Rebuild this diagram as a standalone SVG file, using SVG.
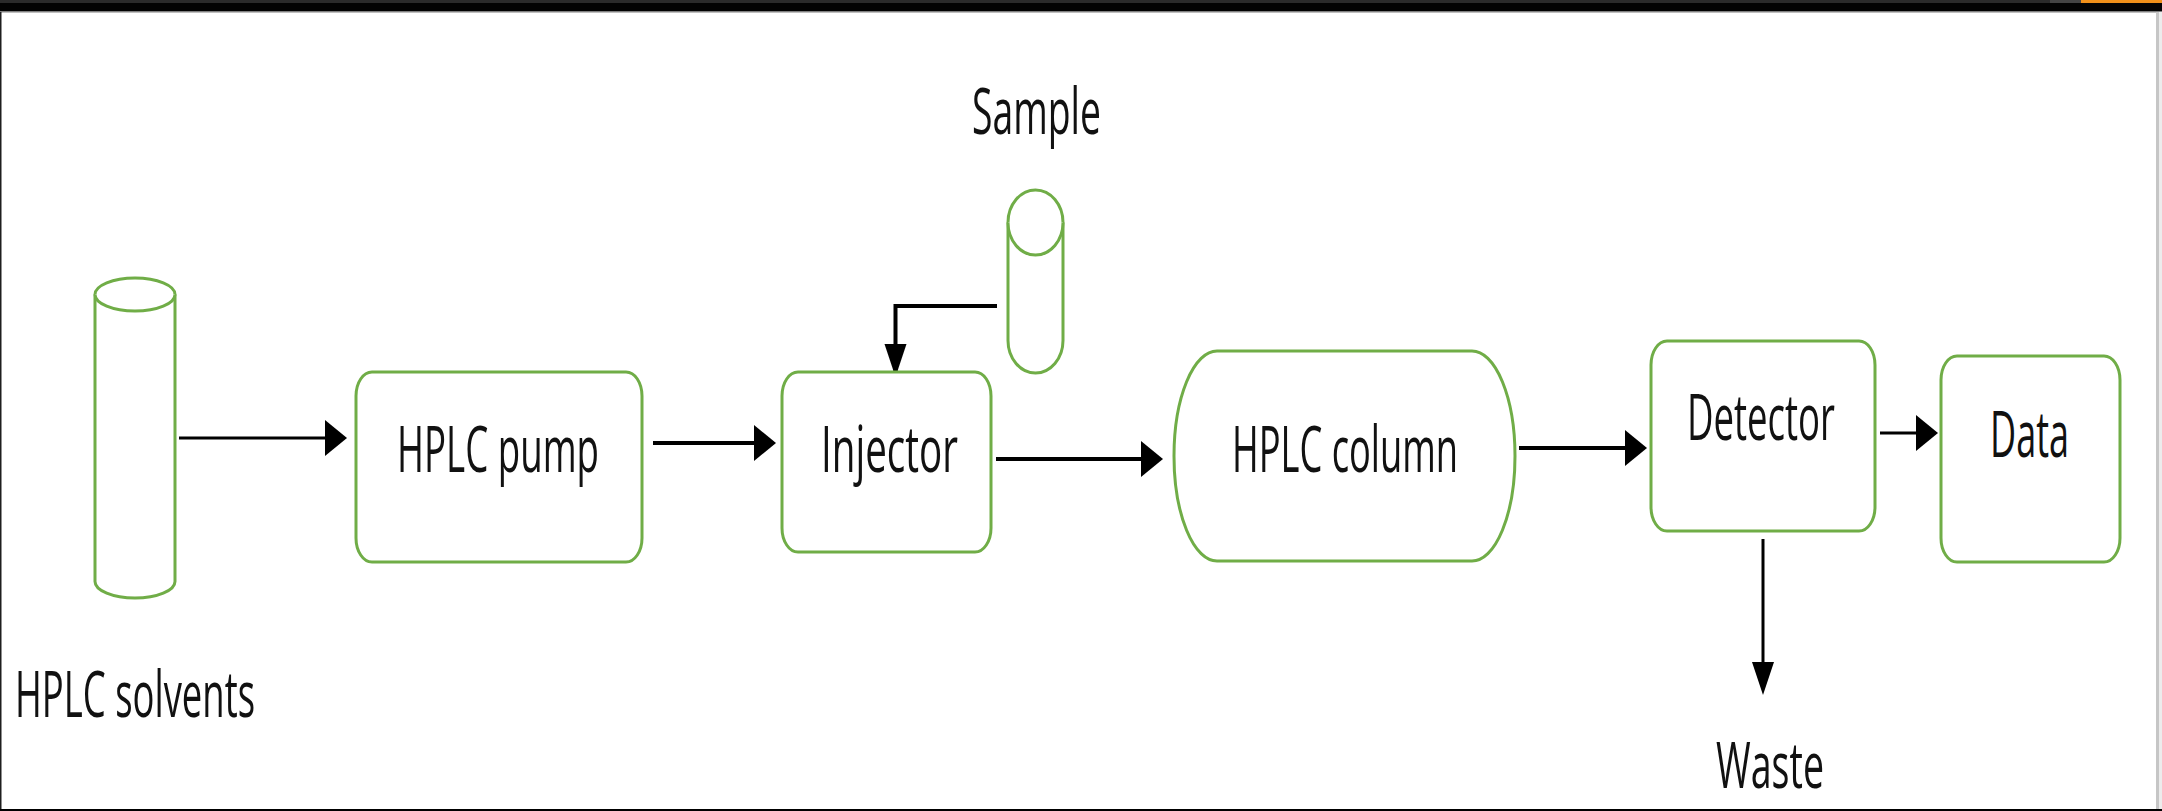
<svg xmlns="http://www.w3.org/2000/svg" width="2162" height="811" viewBox="0 0 2162 811">
  <style>
    .node { fill: #ffffff; stroke: #70ad47; stroke-width: 3; }
    .lbl { font-family: "Open Sans", "Liberation Sans", sans-serif; font-size: 64px; fill: #111111; }
    .conn { fill: none; stroke: #000000; stroke-width: 4; }
    .thin { stroke-width: 3; }
  </style>
  <defs>
    <marker id="ah-right" markerUnits="userSpaceOnUse" orient="0" markerWidth="24" markerHeight="38" refX="16" refY="18" viewBox="0 0 24 38" overflow="visible">
      <path d="M0,0 L22,18 L0,36 Z" fill="#000000"/>
    </marker>
    <marker id="ah-down" markerUnits="userSpaceOnUse" orient="0" markerWidth="24" markerHeight="36" refX="11" refY="27" viewBox="0 0 24 36" overflow="visible">
      <path d="M0,0 L22,0 L11,33 Z" fill="#000000"/>
    </marker>
  </defs>

  <!-- frame -->
  <g id="frame">
    <rect x="0" y="0" width="2162" height="811" fill="#ffffff"/>
    <rect x="0" y="0" width="2162" height="3" fill="#2b2b2b"/>
    <rect x="2050" y="0" width="31" height="3" fill="#444444"/>
    <rect x="2081" y="0" width="81" height="3" fill="#f0901a"/>
    <rect x="0" y="3" width="2162" height="8" fill="#030303"/>
    <rect x="0" y="11" width="2162" height="1.5" fill="#808080"/>
    <rect x="0" y="12" width="1.5" height="799" fill="#1e1e1e"/>
    <rect x="2156" y="12" width="3" height="799" fill="#c6c6c6"/>
    <rect x="2159" y="12" width="3" height="799" fill="#ececec"/>
    <rect x="0" y="809" width="2162" height="2" fill="#000000"/>
  </g>

  <!-- connectors -->
  <g id="connectors">
    <line class="conn thin" x1="179" y1="438" x2="341" y2="438" marker-end="url(#ah-right)"/>
    <line class="conn" x1="653" y1="443" x2="770" y2="443" marker-end="url(#ah-right)"/>
    <path class="conn" d="M997,306 H895.5 V371" marker-end="url(#ah-down)"/>
    <line class="conn" x1="996" y1="459" x2="1157" y2="459" marker-end="url(#ah-right)"/>
    <line class="conn" x1="1519" y1="448" x2="1641" y2="448" marker-end="url(#ah-right)"/>
    <line class="conn thin" x1="1880" y1="433" x2="1932" y2="433" marker-end="url(#ah-right)"/>
    <line class="conn thin" x1="1763" y1="539" x2="1763" y2="689" marker-end="url(#ah-down)"/>
  </g>

  <!-- HPLC solvents -->
  <g id="solvents">
    <path class="node" d="M95,294.5 A40,16.5 0 0 1 175,294.5 L175,581.5 A40,16.5 0 0 1 95,581.5 Z"/>
    <path class="node" fill="none" d="M95,294.5 A40,16.5 0 0 0 175,294.5"/>
    <text class="lbl" x="15" y="717" textLength="240" lengthAdjust="spacingAndGlyphs">HPLC solvents</text>
  </g>

  <!-- HPLC pump -->
  <g id="pump">
    <rect class="node" x="356" y="372" width="286" height="190" rx="16" ry="24"/>
    <text class="lbl" x="397" y="472" textLength="202" lengthAdjust="spacingAndGlyphs">HPLC pump</text>
  </g>

  <!-- Sample -->
  <g id="sample">
    <path class="node" d="M1008,222.5 A27.5,32.5 0 0 1 1063,222.5 L1063,340.5 A27.5,32.5 0 0 1 1008,340.5 Z"/>
    <path class="node" fill="none" d="M1008,222.5 A27.5,32.5 0 0 0 1063,222.5"/>
    <text class="lbl" x="972" y="134" textLength="129" lengthAdjust="spacingAndGlyphs">Sample</text>
  </g>

  <!-- Injector -->
  <g id="injector">
    <rect class="node" x="782" y="372" width="209" height="180" rx="16" ry="24"/>
    <text class="lbl" x="821" y="472" textLength="137" lengthAdjust="spacingAndGlyphs">Injector</text>
  </g>

  <!-- HPLC column -->
  <g id="column">
    <rect class="node" x="1174" y="351" width="341" height="210" rx="43" ry="105"/>
    <text class="lbl" x="1232" y="472" textLength="226" lengthAdjust="spacingAndGlyphs">HPLC column</text>
  </g>

  <!-- Detector -->
  <g id="detector">
    <rect class="node" x="1651" y="341" width="224" height="190" rx="16" ry="24"/>
    <text class="lbl" x="1687" y="440" textLength="148" lengthAdjust="spacingAndGlyphs">Detector</text>
  </g>

  <!-- Data -->
  <g id="data">
    <rect class="node" x="1941" y="356" width="179" height="206" rx="16" ry="24"/>
    <text class="lbl" x="1990" y="457" textLength="79" lengthAdjust="spacingAndGlyphs">Data</text>
  </g>

  <!-- Waste -->
  <g id="waste">
    <text class="lbl" x="1716" y="788" textLength="108" lengthAdjust="spacingAndGlyphs">Waste</text>
  </g>
</svg>
